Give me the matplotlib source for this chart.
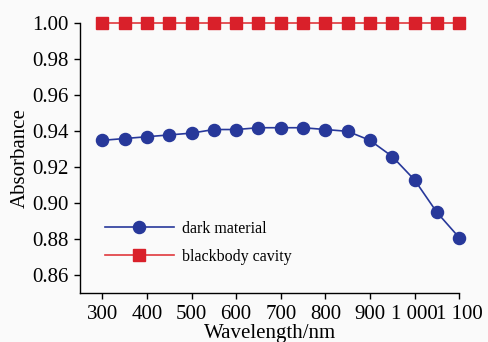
import matplotlib
matplotlib.use("Agg")
import matplotlib.pyplot as plt

# ── Data ──────────────────────────────────────────────────────────────────────
wavelength = [300, 350, 400, 450, 500, 550, 600, 650, 700, 750, 800,
              850, 900, 950, 1000, 1050, 1100]
dark_material = [0.935, 0.936, 0.937, 0.938, 0.939, 0.941, 0.941, 0.942, 0.942,
                 0.942, 0.941, 0.940, 0.935, 0.926, 0.913, 0.895, 0.881]
blackbody = [1.00] * len(wavelength)

xticks = [300, 400, 500, 600, 700, 800, 900, 1000, 1100]
xtick_labels = ["300", "400", "500", "600", "700", "800", "900", "1 000", "1 100"]
yticks = [0.86, 0.88, 0.90, 0.92, 0.94, 0.96, 0.98, 1.00]

# ── Plot ──────────────────────────────────────────────────────────────────────
plt.rcParams["font.family"] = ["Liberation Serif", "DejaVu Serif"]

fig = plt.figure(figsize=(4.88, 3.42), dpi=100, facecolor="#fafafa")
ax = fig.add_axes([0.164, 0.142, 0.777, 0.790])
ax.set_facecolor("#fafafa")

ax.plot(wavelength, dark_material, color="#27389a", linewidth=1.2,
        marker="o", markersize=8.7, label="dark material", clip_on=False, zorder=3)
ax.plot(wavelength, blackbody, color="#e0383d", linewidth=1.2,
        marker="s", markersize=8.0, markerfacecolor="#d9202a",
        markeredgecolor="#d9202a", label="blackbody cavity", clip_on=False, zorder=3)

ax.set_xlim(250, 1100)
ax.set_ylim(0.85, 1.00)
ax.set_xticks(xticks)
ax.set_xticklabels(xtick_labels)
ax.set_yticks(yticks)
ax.set_yticklabels([f"{v:.2f}" for v in yticks])

for side in ("top", "right"):
    ax.spines[side].set_visible(False)
for side in ("left", "bottom"):
    ax.spines[side].set_linewidth(1.0)

ax.tick_params(direction="out", length=4, width=1, labelsize=15, pad=4)
ax.set_xlabel("Wavelength/nm", fontsize=15, labelpad=0)
ax.set_ylabel("Absorbance", fontsize=15, labelpad=2)

ax.legend(loc="upper left", bbox_to_anchor=(0.066, 0.268), frameon=False,
          fontsize=11.5, handlelength=4.3, handletextpad=0.5, labelspacing=0.72,
          borderpad=0, borderaxespad=0, markerscale=1.0)

fig.savefig("out.png", dpi=100, facecolor=fig.get_facecolor())
